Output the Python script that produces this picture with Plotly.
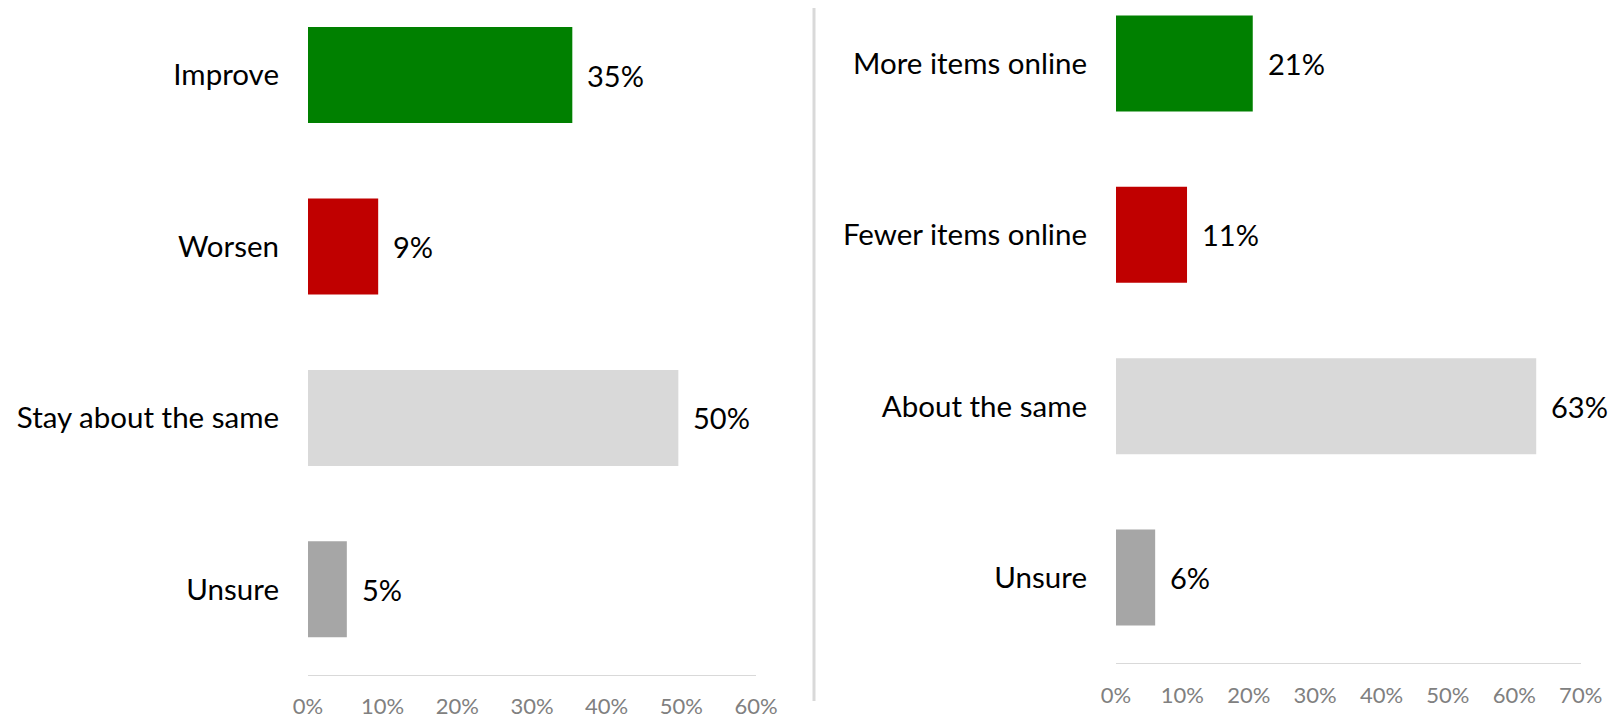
import plotly.graph_objects as go

left_categories = ["Improve", "Worsen", "Stay about the same", "Unsure"]
left_values = [35.4, 9.4, 49.6, 5.2]
right_categories = ["More items online", "Fewer items online", "About the same", "Unsure"]
right_values = [20.6, 10.7, 63.3, 5.9]
bar_colors = ["#008000", "#C00000", "#D9D9D9", "#A6A6A6"]
left_ticks = [0, 10, 20, 30, 40, 50, 60]
right_ticks = [0, 10, 20, 30, 40, 50, 60, 70]

FONT = "Lato"
W, H = 1610, 719

left_pos = list(range(len(left_categories)))
right_pos = list(range(len(right_categories)))

fig = go.Figure()
fig.add_trace(go.Bar(x=left_values, y=left_pos, orientation="h",
                     marker=dict(color=bar_colors, line=dict(width=0)),
                     xaxis="x", yaxis="y", hoverinfo="skip"))
fig.add_trace(go.Bar(x=right_values, y=right_pos, orientation="h",
                     marker=dict(color=bar_colors, line=dict(width=0)),
                     xaxis="x2", yaxis="y2", hoverinfo="skip"))

annotations = []
for v, p in zip(left_values, left_pos):
    annotations.append(dict(x=v, y=p, xref="x", yref="y", text=f"{v:.0f}%",
                            showarrow=False, xanchor="left", xshift=13,
                            font=dict(family=FONT, size=29, color="#000000")))
for v, p in zip(right_values, right_pos):
    annotations.append(dict(x=v, y=p, xref="x2", yref="y2", text=f"{v:.0f}%",
                            showarrow=False, xanchor="left", xshift=13,
                            font=dict(family=FONT, size=29, color="#000000")))

common_x = dict(showgrid=False, zeroline=False, showline=True, linecolor="#D9D9D9",
                linewidth=1, ticks="", automargin=False,
                tickfont=dict(family=FONT, size=22, color="#808080"),
                ticklabelstandoff=12, fixedrange=True)
common_y = dict(showgrid=False, zeroline=False, showline=False, automargin=False,
                ticks="", tickfont=dict(family=FONT, size=29.5, color="#000000"),
                ticklabelstandoff=28, fixedrange=True)

fig.update_layout(
    width=W, height=H,
    margin=dict(l=0, r=0, t=0, b=0),
    paper_bgcolor="white", plot_bgcolor="white",
    showlegend=False, bargap=0.44,
    xaxis=dict(domain=[308 / W, 756 / W], range=[0, 60], tickvals=left_ticks,
               ticktext=[f"{t}%" for t in left_ticks], anchor="y", **common_x),
    yaxis=dict(domain=[(H - 675) / H, 1], range=[3.5, -0.438],
               tickvals=left_pos, ticktext=left_categories,
               anchor="x", **common_y),
    xaxis2=dict(domain=[1116 / W, 1580.7 / W], range=[0, 70], tickvals=right_ticks,
                ticktext=[f"{t}%" for t in right_ticks], anchor="y2", **common_x),
    yaxis2=dict(domain=[(H - 663.3) / H, 1], range=[3.5, -0.370],
                tickvals=right_pos, ticktext=right_categories,
                anchor="x2", **common_y),
    annotations=annotations,
    shapes=[dict(type="line", xref="paper", yref="paper",
                 x0=814 / W, x1=814 / W, y0=(H - 701) / H, y1=(H - 8) / H,
                 line=dict(color="#D9D9D9", width=3))],
)

fig.write_html("out.html")
